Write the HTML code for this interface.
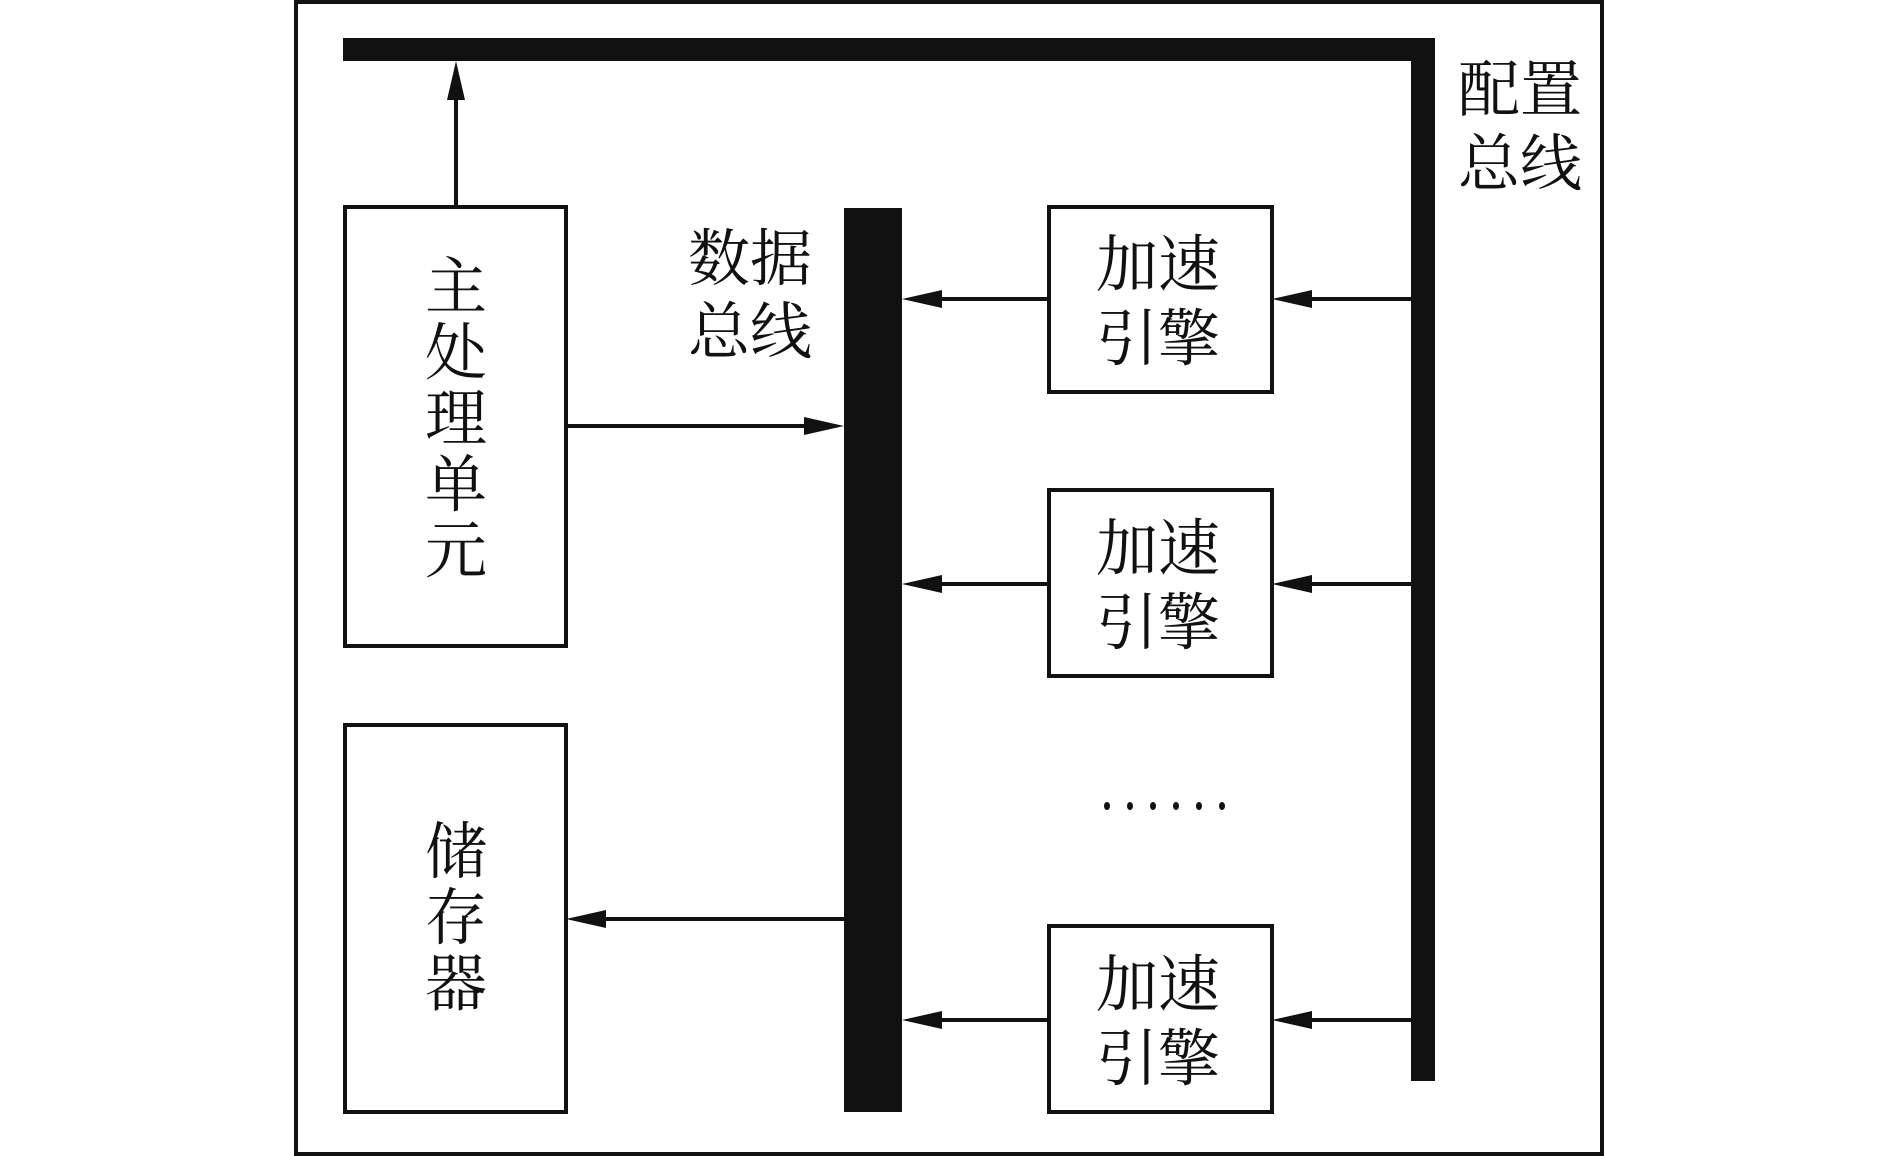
<!DOCTYPE html>
<html><head><meta charset="utf-8"><style>
html,body{margin:0;padding:0;background:#fff;}
svg{display:block;}
text{font-family:"Liberation Serif","Noto Serif CJK SC",serif;fill:#111;font-size:62px;}
</style></head><body>
<svg width="1889" height="1156" viewBox="0 0 1889 1156" xmlns="http://www.w3.org/2000/svg">
<rect x="296" y="2" width="1306" height="1152" fill="none" stroke="#111" stroke-width="4"/>
<!-- config bus -->
<rect x="343" y="38" width="1092" height="23" fill="#111"/>
<rect x="1411" y="38" width="24" height="1043" fill="#111"/>
<!-- data bus -->
<rect x="844" y="208" width="58" height="904" fill="#111"/>
<!-- boxes -->
<g fill="none" stroke="#111" stroke-width="4">
<rect x="345" y="207" width="221" height="439"/>
<rect x="345" y="725" width="221" height="387"/>
<rect x="1049" y="207" width="223" height="185"/>
<rect x="1049" y="490" width="223" height="186"/>
<rect x="1049" y="926" width="223" height="186"/>
</g>
<!-- lines -->
<g stroke="#111" stroke-width="4">
<line x1="456" y1="206" x2="456" y2="95"/>
<line x1="566" y1="426" x2="810" y2="426"/>
<line x1="844" y1="919" x2="600" y2="919"/>
<line x1="1049" y1="299" x2="936" y2="299"/>
<line x1="1411" y1="299" x2="1306" y2="299"/>
<line x1="1049" y1="584" x2="936" y2="584"/>
<line x1="1411" y1="584" x2="1306" y2="584"/>
<line x1="1049" y1="1020" x2="936" y2="1020"/>
<line x1="1411" y1="1020" x2="1306" y2="1020"/>
</g>
<g fill="#111">
<polygon points="456,61 447,100 465,100"/>
<polygon points="844,426 804,417 804,435"/>
<polygon points="566,919 606,910 606,928"/>
<polygon points="902,299 942,290 942,308"/>
<polygon points="1272,299 1312,290 1312,308"/>
<polygon points="902,584 942,575 942,593"/>
<polygon points="1272,584 1312,575 1312,593"/>
<polygon points="902,1020 942,1011 942,1029"/>
<polygon points="1272,1020 1312,1011 1312,1029"/>
</g>
<!-- dots -->
<g fill="#111">
<ellipse cx="1107" cy="806" rx="3" ry="4"/>
<ellipse cx="1130" cy="806" rx="3" ry="4"/>
<ellipse cx="1153" cy="806" rx="3" ry="4"/>
<ellipse cx="1176" cy="806" rx="3" ry="4"/>
<ellipse cx="1199" cy="806" rx="3" ry="4"/>
<ellipse cx="1222" cy="806" rx="3" ry="4"/>
</g>
<!-- text -->
<g text-anchor="middle">
<text x="456" y="308">主</text>
<text x="456" y="374">处</text>
<text x="456" y="440">理</text>
<text x="456" y="506">单</text>
<text x="456" y="572">元</text>
<text x="456" y="873">储</text>
<text x="456" y="939">存</text>
<text x="456" y="1005">器</text>
</g>
<g>
<text x="688" y="280">数据</text>
<text x="688" y="353">总线</text>
<text x="1458" y="111">配置</text>
<text x="1458" y="185">总线</text>
<text x="1096" y="286">加速</text>
<text x="1096" y="360">引擎</text>
<text x="1096" y="570">加速</text>
<text x="1096" y="644">引擎</text>
<text x="1096" y="1006">加速</text>
<text x="1096" y="1080">引擎</text>
</g>
</svg>
</body></html>
